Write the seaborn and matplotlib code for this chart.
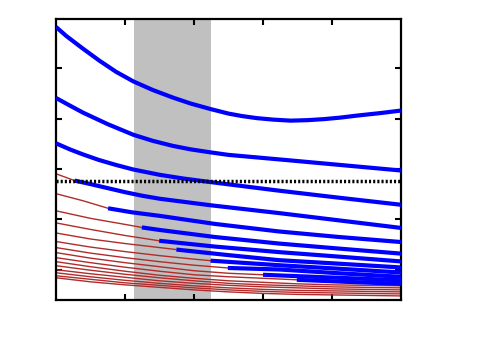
import numpy as np
import matplotlib
matplotlib.use("Agg")
import matplotlib.pyplot as plt
import seaborn as sns

sns.set_theme(style="white")
plt.rcParams['font.family'] = ['DejaVu Sans']

# full blue curves (start at left edge)
blue1_x = [0, 0.15, 0.38, 0.63, 0.87, 1.12, 1.4, 1.69, 1.95, 2.24, 2.5, 2.7,
           2.91, 3.15, 3.40, 3.65, 3.88, 4.12, 4.36, 4.7, 5]
blue1_y = [5.82, 5.64, 5.40, 5.15, 4.93, 4.74, 4.57, 4.42, 4.30, 4.19, 4.10, 4.05,
           4.01, 3.98, 3.96, 3.97, 3.99, 4.02, 4.06, 4.11, 4.16]
blue2_x = [0, 0.2, 0.39, 0.75, 1.12, 1.4, 1.69, 1.95, 2.24, 2.5, 2.91, 3.40, 4.2, 5]
blue2_y = [4.41, 4.26, 4.12, 3.89, 3.68, 3.56, 3.46, 3.39, 3.33, 3.28, 3.23, 3.17,
           3.07, 2.97]
blue3_x = [0, 0.2, 0.39, 0.62, 0.87, 1.12, 1.5, 1.85, 2.24, 3.23, 4.1, 5]
blue3_y = [3.51, 3.39, 3.29, 3.18, 3.08, 2.99, 2.885, 2.81, 2.74, 2.57, 2.43, 2.29]

# blue continuations of the red curves
blue4_x = [0.27, 0.5, 0.75, 1.0, 1.245, 1.5, 2.24, 3.23, 5]
blue4_y = [2.77, 2.70, 2.62, 2.54, 2.47, 2.41, 2.28, 2.125, 1.83]
blue5_x = [0.755, 1.1, 1.5, 2.3, 3.23, 4.1, 5]
blue5_y = [2.22, 2.14, 2.07, 1.91, 1.76, 1.65, 1.55]
blue6_x = [1.245, 1.5, 2.3, 3.23, 4.1, 5]
blue6_y = [1.84, 1.79, 1.65, 1.52, 1.42, 1.32]
blue7_x = [1.495, 2.3, 3.23, 4.1, 5]
blue7_y = [1.575, 1.46, 1.35, 1.26, 1.165]
blue8_x = [1.745, 2.5, 3.23, 4.1, 5]
blue8_y = [1.40, 1.29, 1.19, 1.12, 1.045]
blue9_x = [2.24, 3.23, 4.1, 5]
blue9_y = [1.18, 1.09, 1.02, 0.945]
blue10_x = [2.49, 3.23, 4.1, 5]
blue10_y = [1.035, 1.005, 0.93, 0.86]
blue11_x = [3.0, 4.0, 5]
blue11_y = [0.90, 0.845, 0.79]
blue12_x = [3.49, 4.2, 5]
blue12_y = [0.80, 0.76, 0.72]

# thin red curves
red_grid = [0, 0.5, 1, 1.5, 2, 2.5, 3, 3.5, 4, 4.5, 5]
red1_x = [0, 0.13, 0.27]
red1_y = [2.905, 2.84, 2.77]
red2_x = [0, 0.39, 0.755]
red2_y = [2.51, 2.37, 2.22]
red3_x = [0, 0.5, 1.0, 1.245]
red3_y = [2.17, 2.02, 1.90, 1.84]
red4_x = [0, 0.5, 1.0, 1.495]
red4_y = [1.93, 1.80, 1.68, 1.575]
red5_x = [0, 0.5, 1, 1.5, 1.745]
red5_y = [1.73, 1.61, 1.52, 1.44, 1.40]
red6_x = [0, 0.5, 1, 1.5, 2, 2.24]
red6_y = [1.56, 1.45, 1.36, 1.28, 1.21, 1.18]
red7_x = [0, 0.5, 1, 1.5, 2, 2.49]
red7_y = [1.44, 1.33, 1.24, 1.16, 1.09, 1.035]
red8_x = [0, 0.5, 1, 1.5, 2, 2.5, 3.0]
red8_y = [1.34, 1.23, 1.14, 1.06, 0.98, 0.93, 0.90]
red9_x = [0, 0.5, 1, 1.5, 2, 2.5, 3, 3.49]
red9_y = [1.24, 1.14, 1.05, 0.97, 0.90, 0.86, 0.83, 0.80]
red10_y = [1.16, 1.06, 0.97, 0.89, 0.83, 0.78, 0.75, 0.72, 0.70, 0.69, 0.68]
red11_y = [1.08, 0.99, 0.91, 0.84, 0.78, 0.73, 0.70, 0.68, 0.66, 0.65, 0.64]
red12_y = [1.00, 0.92, 0.85, 0.78, 0.73, 0.69, 0.66, 0.64, 0.62, 0.61, 0.60]
red13_y = [0.94, 0.86, 0.79, 0.73, 0.68, 0.64, 0.61, 0.59, 0.58, 0.57, 0.56]
red14_y = [0.88, 0.81, 0.74, 0.69, 0.64, 0.60, 0.57, 0.55, 0.54, 0.53, 0.52]
red15_y = [0.84, 0.76, 0.70, 0.65, 0.60, 0.56, 0.53, 0.51, 0.50, 0.49, 0.48]

band = (1.134, 2.24)
threshold = 2.77

blues = [(blue1_x, blue1_y), (blue2_x, blue2_y), (blue3_x, blue3_y),
         (blue4_x, blue4_y), (blue5_x, blue5_y), (blue6_x, blue6_y),
         (blue7_x, blue7_y), (blue8_x, blue8_y), (blue9_x, blue9_y),
         (blue10_x, blue10_y), (blue11_x, blue11_y), (blue12_x, blue12_y)]
reds = [(red1_x, red1_y), (red2_x, red2_y), (red3_x, red3_y), (red4_x, red4_y),
        (red5_x, red5_y), (red6_x, red6_y), (red7_x, red7_y), (red8_x, red8_y),
        (red9_x, red9_y), (red_grid, red10_y), (red_grid, red11_y),
        (red_grid, red12_y), (red_grid, red13_y), (red_grid, red14_y),
        (red_grid, red15_y)]

fig = plt.figure(figsize=(5, 3.5), dpi=100)
ax = fig.add_axes([0.112, 0.143, 0.69, 0.803])

ax.axvspan(band[0], band[1], color="#c0c0c0", lw=0, zorder=0)

for xs, ys in reds:
    sns.lineplot(x=xs, y=ys, ax=ax, color="#b02c2c", linewidth=1.0,
                 sort=False, estimator=None, zorder=2, solid_joinstyle="round")
for xs, ys in blues:
    sns.lineplot(x=xs, y=ys, ax=ax, color="#0000ff", linewidth=3.0,
                 sort=False, estimator=None, zorder=3,
                 solid_joinstyle="round", solid_capstyle="butt")

ax.axhline(threshold, color="black", linewidth=2.5, linestyle=(0, (0.6, 0.6)),
           zorder=4)

ax.set_xlim(0, 5)
ax.set_ylim(0.4, 5.98)
ax.set_xticks([1, 2, 3, 4])
ax.set_yticks([1, 2, 3, 4, 5])
ax.set_xticklabels([])
ax.set_yticklabels([])
ax.tick_params(direction="in", length=4, width=1.5, top=True, right=True,
               bottom=True, left=True, colors="black")
for s in ax.spines.values():
    s.set_color("black")
    s.set_linewidth(1.6)
ax.set_xlabel("")
ax.set_ylabel("")

fig.savefig("out.png", dpi=100)
